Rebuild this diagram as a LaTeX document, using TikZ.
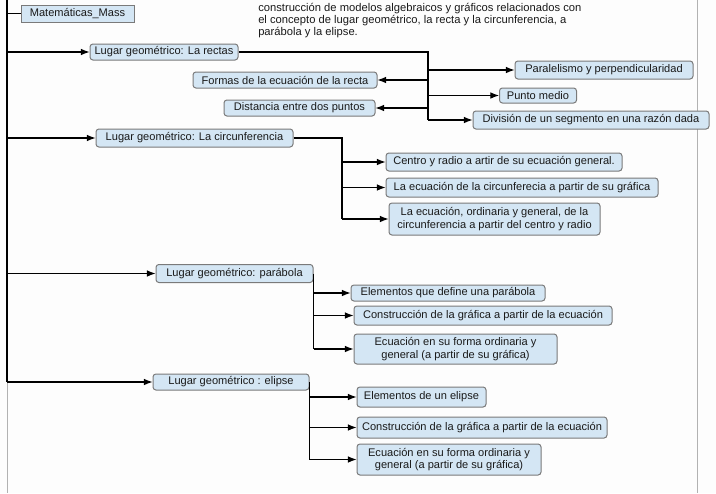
\documentclass[tikz,border=0pt]{standalone}
\usepackage{fontspec}
\setmainfont{Liberation Sans}
\usetikzlibrary{arrows.meta}
\definecolor{bfill}{HTML}{D4E6F4}
\definecolor{bdraw}{HTML}{7A7A7A}
\definecolor{bg}{HTML}{FDFDFD}
\definecolor{txt}{HTML}{1A1A1A}
\tikzset{
  w/.style={minimum width=#1*0.75pt},
  h/.style={minimum height=#1*0.75pt},
  sqbox/.style={draw=bdraw, fill=bfill, line width=0.75pt, inner sep=0pt, font=\fontsize{8.3pt}{9.2pt}\selectfont, text=txt, align=center},
  rbox/.style={sqbox, rounded corners=2.2pt},
  conn/.style={line width=0.8pt, black},
  arr/.style={conn, -{Latex[length=6.5pt,width=5pt]}},
}
\begin{document}
\begin{tikzpicture}[x=0.75pt,y=-0.75pt]
\fill[bg] (0,0) rectangle (716,493);
\useasboundingbox (0,0) rectangle (716,493);
\draw[gray!60, line width=0.75pt] (697,0) -- (697,493);
\draw[gray!60, line width=0.75pt] (7,382) -- (7,493);

\node[anchor=north west, inner sep=0pt, align=left, font=\fontsize{8.4pt}{9pt}\selectfont, text=txt] (intro) at (258,2.8)
 {construcción de modelos algebraicos y gráficos relacionados con\\el concepto de lugar geométrico, la recta y la circunferencia, a\\parábola y la elipse.};

\node[sqbox, w=113, h=17] (math) at (77.5,13.5) {Matemáticas\_Mass};
\node[rbox, w=148, h=16] (rectas) at (164,52) {Lugar geométrico: La rectas};
\node[rbox, w=184, h=16] (formas) at (285,80) {Formas de la ecuación de la recta};
\node[rbox, w=151, h=16] (dist) at (299.5,108) {Distancia entre dos puntos};
\node[rbox, w=178, h=18] (paral) at (604,70) {Paralelismo y perpendicularidad};
\node[rbox, w=77, h=15] (punto) at (538,95.5) {Punto medio};
\node[rbox, w=236, h=18] (divis) at (591,120) {División de un segmento en una razón dada};

\node[rbox, w=197, h=18] (circ) at (194.5,138) {Lugar geométrico: La circunferencia};
\node[rbox, w=236, h=18] (centro) at (504,162) {Centro y radio a artir de su ecuación general.};
\node[rbox, w=272, h=19] (ecgraf) at (522,187.5) {La ecuación de la circunferecia a partir de su gráfica};
\node[rbox, w=211, h=32] (ordin) at (494.5,219) {La ecuación, ordinaria y general, de la\\circunferencia a partir del centro y radio};

\node[rbox, w=157, h=18] (parab) at (234.5,273.5) {Lugar geométrico: parábola};
\node[rbox, w=194, h=16] (elem) at (448,293) {Elementos que define una parábola};
\node[rbox, w=258, h=19] (constrA) at (483,315.5) {Construcción de la gráfica a partir de la ecuación};
\node[rbox, w=203, h=30] (ecuA) at (455.5,349) {Ecuación en su forma ordinaria y\\general (a partir de su gráfica)};

\node[rbox, w=156, h=16] (elip) at (231,382) {Lugar geométrico : elipse};
\node[rbox, w=129, h=20] (elemB) at (421.5,397) {Elementos de un elipse};
\node[rbox, w=250, h=21] (constrB) at (482,427.5) {Construcción de la gráfica a partir de la ecuación};
\node[rbox, w=184, h=31] (ecuB) at (449,459.5) {Ecuación en su forma ordinaria y\\general (a partir de su gráfica)};

% trunk
\coordinate (ttop) at (7,0);
\coordinate (tbot) at (7,382);
\draw[conn] (ttop) -- (tbot);
\draw[conn] (ttop |- math.west) -- (math.west);
\draw[arr] (ttop |- rectas.west) -- (rectas.west);
\draw[arr] (ttop |- circ.west) -- (circ.west);
\draw[arr] (ttop |- parab.west) -- (parab.west);
\draw[arr] (ttop |- elip.west) -- (elip.west);

% rectas
\coordinate (r0) at (428,52);
\draw[conn] (rectas.east) -- (r0) -- (r0 |- divis.west);
\draw[arr] (r0 |- paral.west) -- (paral.west);
\draw[arr] (r0 |- formas.east) -- (formas.east);
\draw[arr] (r0 |- punto.west) -- (punto.west);
\draw[arr] (r0 |- dist.east) -- (dist.east);
\draw[arr] (r0 |- divis.west) -- (divis.west);

% circunferencia
\coordinate (c0) at (342,138);
\draw[conn] (circ.east) -- (c0) -- (c0 |- ordin.west);
\draw[arr] (c0 |- centro.west) -- (centro.west);
\draw[arr] (c0 |- ecgraf.west) -- (ecgraf.west);
\draw[arr] (c0 |- ordin.west) -- (ordin.west);

% parabola
\draw[conn] (parab.east) -- (parab.east |- ecuA.west);
\draw[arr] (parab.east |- elem.west) -- (elem.west);
\draw[arr] (parab.east |- constrA.west) -- (constrA.west);
\draw[arr] (parab.east |- ecuA.west) -- (ecuA.west);

% elipse
\draw[conn] (elip.east) -- (elip.east |- ecuB.west);
\draw[arr] (elip.east |- elemB.west) -- (elemB.west);
\draw[arr] (elip.east |- constrB.west) -- (constrB.west);
\draw[arr] (elip.east |- ecuB.west) -- (ecuB.west);
\end{tikzpicture}
\end{document}
